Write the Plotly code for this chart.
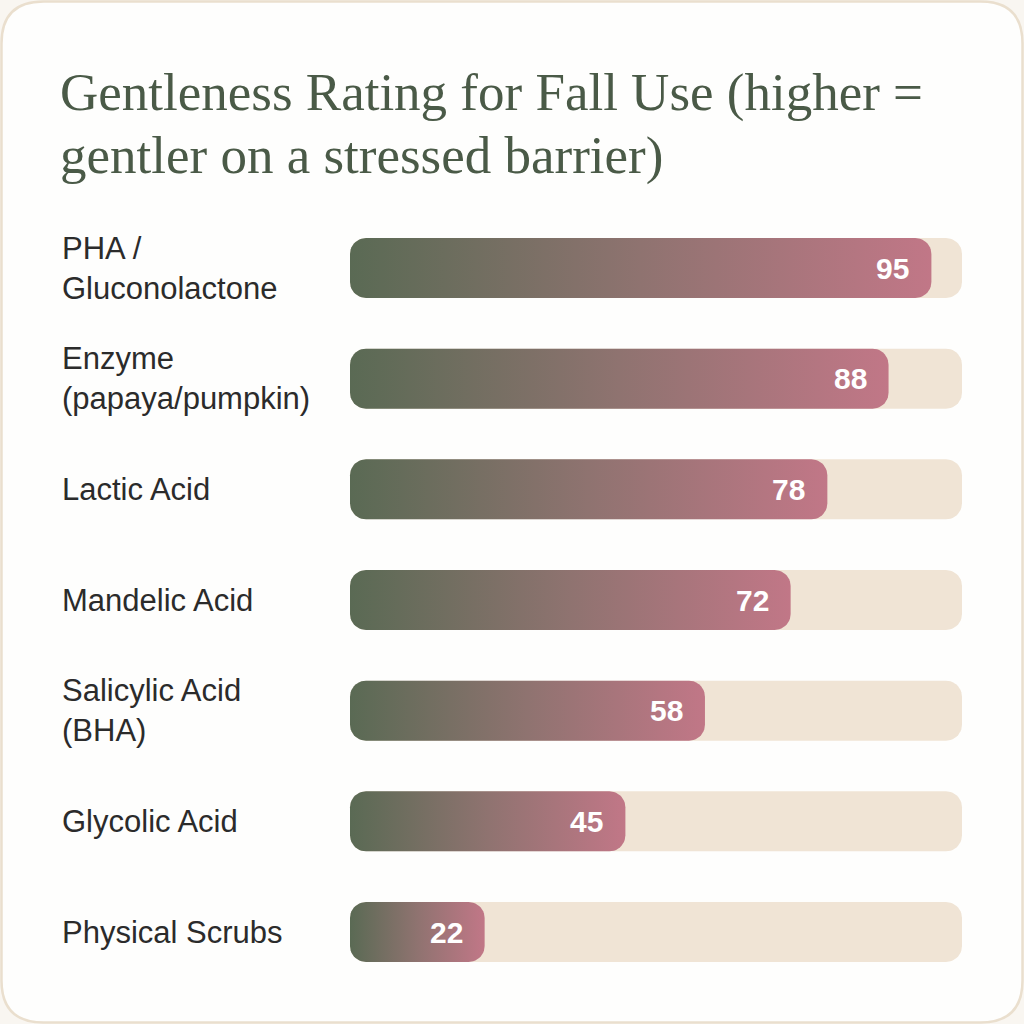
import numpy as np
import plotly.graph_objects as go

# ---- data ----
categories = ["PHA /<br>Gluconolactone", "Enzyme<br>(papaya/pumpkin)", "Lactic Acid",
              "Mandelic Acid", "Salicylic Acid<br>(BHA)", "Glycolic Acid", "Physical Scrubs"]
values = [95, 88, 78, 72, 58, 45, 22]
scale_max = 100
title_lines = ["Gentleness Rating for Fall Use (higher =", "gentler on a stressed barrier)"]

# ---- geometry / style ----
W = H = 1024
x0_px, x100_px = 350, 962
px_per_unit = (x100_px - x0_px) / scale_max
row0_px, row_step_px = 268, 110.67
bar_h_px = 60
radius_px = 16

x_range = [-x0_px / px_per_unit, (W - x0_px) / px_per_unit]
y_range = [(H - row0_px) / row_step_px, -row0_px / row_step_px]  # reversed

GREEN = "#5a6a54"
PINK = "#c17787"
TRACK = "#f0e4d5"


def rounded_rect(x_start, x_end, yc):
    rx = radius_px / px_per_unit
    ry = radius_px / row_step_px
    hh = bar_h_px / row_step_px / 2
    t = np.linspace(0, np.pi / 2, 12)
    xs, ys = [], []
    cx, cy = x_end - rx, yc - hh + ry
    xs += list(cx + rx * np.sin(t)); ys += list(cy - ry * np.cos(t))
    cx, cy = x_end - rx, yc + hh - ry
    xs += list(cx + rx * np.cos(t)); ys += list(cy + ry * np.sin(t))
    cx, cy = x_start + rx, yc + hh - ry
    xs += list(cx - rx * np.sin(t)); ys += list(cy + ry * np.cos(t))
    cx, cy = x_start + rx, yc - hh + ry
    xs += list(cx - rx * np.cos(t)); ys += list(cy - ry * np.sin(t))
    xs.append(xs[0]); ys.append(ys[0])
    return xs, ys


fig = go.Figure()

for i, (cat, v) in enumerate(zip(categories, values)):
    tx, ty = rounded_rect(0, scale_max, i)
    fig.add_trace(go.Scatter(x=tx, y=ty, fill="toself", fillcolor=TRACK, mode="lines",
                             line=dict(width=0), hoverinfo="skip", showlegend=False))
    bx, by = rounded_rect(0, v, i)
    fig.add_trace(go.Scatter(x=bx, y=by, fill="toself", mode="lines", line=dict(width=0),
                             fillgradient=dict(type="horizontal",
                                               colorscale=[[0, GREEN], [0.5, "#8f7370"], [1, PINK]]),
                             name=cat.replace("<br>", " "), hoverinfo="name", showlegend=False))
    fig.add_annotation(x=v, y=i, xref="x", yref="y", text=f"<b>{v}</b>", showarrow=False,
                       xanchor="right", yanchor="middle", xshift=-20,
                       font=dict(family="Liberation Sans, Arial, sans-serif", size=30, color="white"))
    fig.add_annotation(x=60 / W, y=i, xref="paper", yref="y", text=cat, showarrow=False,
                       xanchor="left", yanchor="middle", align="left",
                       font=dict(family="Liberation Sans, Arial, sans-serif", size=31, color="#2b2b2b"))

for j, (line, ypx) in enumerate(zip(title_lines, [92, 155])):
    fig.add_annotation(x=58 / W, y=1 - ypx / H, xref="paper", yref="paper", text=line,
                       showarrow=False, xanchor="left", yanchor="middle",
                       font=dict(family="Liberation Serif, Times New Roman, serif", size=53,
                                 color="#4a5a47"))

# card
r = 42 / W
e = 1.5 / W
card_path = (f"M {e + r},{e} L {1 - e - r},{e} Q {1 - e},{e} {1 - e},{e + r} "
             f"L {1 - e},{1 - e - r} Q {1 - e},{1 - e} {1 - e - r},{1 - e} "
             f"L {e + r},{1 - e} Q {e},{1 - e} {e},{1 - e - r} "
             f"L {e},{e + r} Q {e},{e} {e + r},{e} Z")
fig.add_shape(type="path", path=card_path, xref="paper", yref="paper", layer="below",
              fillcolor="#fefefd", line=dict(color="#eadfce", width=2.5))

fig.update_layout(
    width=W, height=H,
    margin=dict(l=0, r=0, t=0, b=0),
    paper_bgcolor="#f9f6f1",
    plot_bgcolor="rgba(0,0,0,0)",
    xaxis=dict(range=x_range, visible=False, fixedrange=True),
    yaxis=dict(range=y_range, visible=False, fixedrange=True),
    showlegend=False,
)

fig.write_html("out.html", config={"displayModeBar": False},
               post_script="document.body.style.margin='0';document.body.style.overflow='hidden';")
